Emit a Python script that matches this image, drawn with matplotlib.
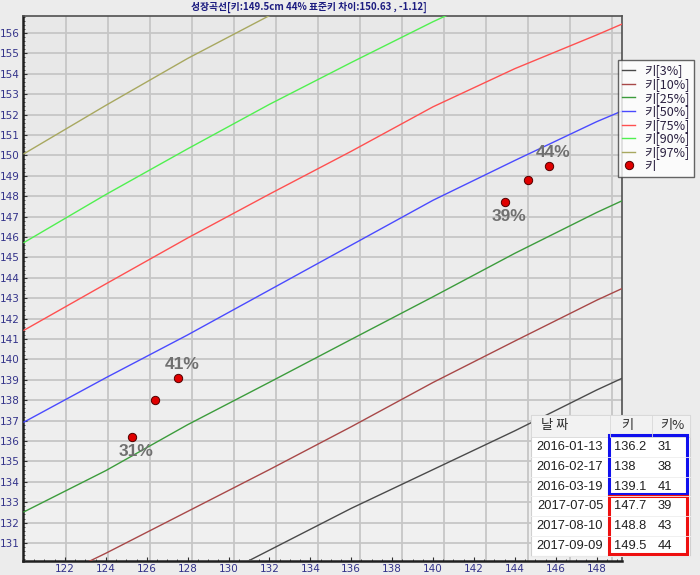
import numpy as np
import matplotlib
matplotlib.use('Agg')
import matplotlib.pyplot as plt
from matplotlib.patches import Rectangle
from matplotlib.ticker import MultipleLocator
from matplotlib.colors import LinearSegmentedColormap

plt.rcParams['font.family'] = ['DejaVu Sans', 'Noto Sans CJK KR']

# ---- percentile curves (age in months -> height cm) ----
curve_age = [120, 124, 128, 132, 136, 140, 144, 148, 149.3]
p3 = [124.4, 126.5, 128.6, 130.65, 132.7, 134.6, 136.5, 138.5, 139.1]
p10 = [128.55, 130.5, 132.55, 134.6, 136.7, 138.87, 140.9, 142.9, 143.5]
p25 = [132.53, 134.55, 136.8, 138.88, 140.98, 143.07, 145.2, 147.2, 147.8]
p50 = [136.93, 139.1, 141.2, 143.4, 145.6, 147.8, 149.75, 151.65, 152.2]
p75 = [141.43, 143.7, 145.95, 148.1, 150.2, 152.38, 154.25, 155.9, 156.46]
p90 = [145.73, 148.08, 150.32, 152.5, 154.55, 156.55, 158.4, 160.2, 160.8]
p97 = [150.08, 152.45, 154.75, 156.85, 158.9, 160.9, 162.8, 164.6, 165.2]
curve_labels = ['키[3%]', '키[10%]', '키[25%]', '키[50%]', '키[75%]', '키[90%]', '키[97%]']
curve_colors = ['#4a4a4a', '#a84848', '#3c9c3c', '#4a4aff', '#ff5050', '#50f050', '#a8a860']

# ---- measurements ----
dates = ['2016-01-13', '2016-02-17', '2016-03-19', '2017-07-05', '2017-08-10', '2017-09-09']
ages = [125.28, 126.41, 127.53, 143.52, 144.65, 145.67]
heights = [136.2, 138.0, 139.1, 147.7, 148.8, 149.5]
pcts = [31, 38, 41, 39, 43, 44]
label_side = ['below', None, 'above', 'below', None, 'above']

x_ticks = list(range(122, 149, 2))
y_ticks = list(range(131, 157))

title = '성장곡선[키:149.5cm 44% 표준키 차이:150.63 , -1.12]'

W, H = 700, 575
fig = plt.figure(figsize=(7, 5.75), dpi=100, facecolor='#ececec')
L, R, T, B = 23, 622, 16, 561
ax = fig.add_axes([L / W, 1 - B / H, (R - L) / W, (B - T) / H])
ax.set_facecolor('#ebebeb')
xmin, xmax = 119.95, 149.24
ymin, ymax = 130.12, 156.83

# gradient background
grad = np.linspace(0, 1, 256).reshape(-1, 1)
cm = LinearSegmentedColormap.from_list('g', ['#e8e8e8', '#f1f1f1'])
ax.imshow(grad, extent=[xmin, xmax, ymin, ymax], origin='upper', aspect='auto',
          cmap=cm, zorder=0)
ax.set_xlim(xmin, xmax)
ax.set_ylim(ymin, ymax)

# grid
for yv in y_ticks:
    ax.axhline(yv, color='#c6c6c6', lw=1.3, zorder=1)
grid_step = 42 / 20.45
gx = 120 + grid_step
while gx < xmax:
    ax.axvline(gx, color='#c6c6c6', lw=1.3, zorder=1)
    gx += grid_step

series = [p3, p10, p25, p50, p75, p90, p97]
handles = []
for vals, c, lab in zip(series, curve_colors, curve_labels):
    h, = ax.plot(curve_age, vals, color=c, lw=1.0, zorder=3, label=lab)
    handles.append(h)

pt, = ax.plot(ages, heights, 'o', ms=6, mfc='#e00000', mec='#500000', mew=0.7,
              ls='none', zorder=5, label='키')
handles.append(pt)

for a, h_, p, side in zip(ages, heights, pcts, label_side):
    if side is None:
        continue
    dy = 9.5 if side == 'above' else -10.5
    ax.annotate(f'{p}%', (a, h_), xytext=(2.8, dy), textcoords='offset points',
                ha='center', va='center', fontsize=12.5, fontweight='bold',
                color='#707070', family='Liberation Sans', zorder=6)

ax.set_xticks(x_ticks)
ax.set_yticks(y_ticks)
ax.yaxis.set_minor_locator(MultipleLocator(0.2))
ax.xaxis.set_minor_locator(MultipleLocator(0.5))
ax.tick_params(axis='both', which='major', direction='in', length=3, width=0.8,
               color='#303030', labelsize=7.5, labelcolor='#33338a', pad=2.5)
ax.tick_params(axis='both', which='minor', direction='in', length=1.5, width=0.6,
               color='#303030')
for s in ['left', 'bottom']:
    ax.spines[s].set_color('#202020')
    ax.spines[s].set_linewidth(1.8)
for s in ['top', 'right']:
    ax.spines[s].set_color('#505050')
    ax.spines[s].set_linewidth(1.2)

fig.text(309 / W, 1 - 7 / H, title, ha='center', va='center', fontsize=7,
         fontweight='bold', color='#1c1c80',
         family=['Noto Sans CJK KR', 'DejaVu Sans'])

leg = fig.legend(handles=handles, loc='upper left',
                 bbox_to_anchor=(618 / W, 1 - 60 / H), fontsize=9,
                 handlelength=1.0, handletextpad=0.75, labelspacing=0.05,
                 borderpad=0.35, borderaxespad=0, frameon=True, fancybox=False,
                 markerscale=1.0)
leg.get_frame().set_edgecolor('#404040')
leg.get_frame().set_linewidth(1.0)
leg.get_frame().set_facecolor('white')
for t in leg.get_texts():
    t.set_color('#2a2040')
    t.set_family(['Noto Sans CJK KR', 'DejaVu Sans'])

# ---- table overlay (pixel coordinates) ----
ov = fig.add_axes([0, 0, 1, 1], zorder=10)
ov.set_xlim(0, W)
ov.set_ylim(H, 0)
ov.axis('off')
ov.patch.set_alpha(0)
tx0, tx1, ty0, th_h, row_h = 531, 690, 415, 22, 19.8
nrows = len(dates)
ty1 = ty0 + th_h + nrows * row_h
ov.add_patch(Rectangle((tx0, ty0), tx1 - tx0, ty1 - ty0, facecolor='white',
                       edgecolor='#d0d0d0', lw=0.8))
ov.add_patch(Rectangle((tx0, ty0), tx1 - tx0, th_h, facecolor='#f2f2f2',
                       edgecolor='#d8d8d8', lw=0.6))
for xs in [610, 652]:
    ov.plot([xs, xs], [ty0, ty0 + th_h], color='#d8d8d8', lw=0.6)
kfont = ['Noto Sans CJK KR', 'DejaVu Sans']
ov.text(555, ty0 + th_h / 2, '날 짜', ha='center', va='center', fontsize=9.5,
        color='#303030', family=kfont)
ov.text(627, ty0 + th_h / 2, '키', ha='center', va='center', fontsize=9.5,
        color='#303030', family=kfont)
ov.text(672, ty0 + th_h / 2, '키%', ha='center', va='center', fontsize=9.5,
        color='#303030', family=kfont)
for i, (d, h_, p) in enumerate(zip(dates, heights, pcts)):
    cy = ty0 + th_h + (i + 0.5) * row_h
    ov.plot([tx0, tx1], [cy + row_h / 2, cy + row_h / 2], color='#eeeeee', lw=0.6)
    ov.text(570, cy, d, ha='center', va='center', fontsize=9.3, color='#202020',
            family='Liberation Sans')
    ov.text(614, cy, f'{h_:g}', ha='left', va='center', fontsize=9.3, color='#202020',
            family='Liberation Sans')
    ov.text(658, cy, f'{p}', ha='left', va='center', fontsize=9.3, color='#202020',
            family='Liberation Sans')
ov.add_patch(Rectangle((609, 434.5), 78, 59.5, facecolor='none', edgecolor='#1010ee', lw=2.2))
ov.add_patch(Rectangle((609, 496), 78, 58, facecolor='none', edgecolor='#ee1010', lw=2.2))

fig.savefig('out.png', dpi=100, facecolor=fig.get_facecolor())
